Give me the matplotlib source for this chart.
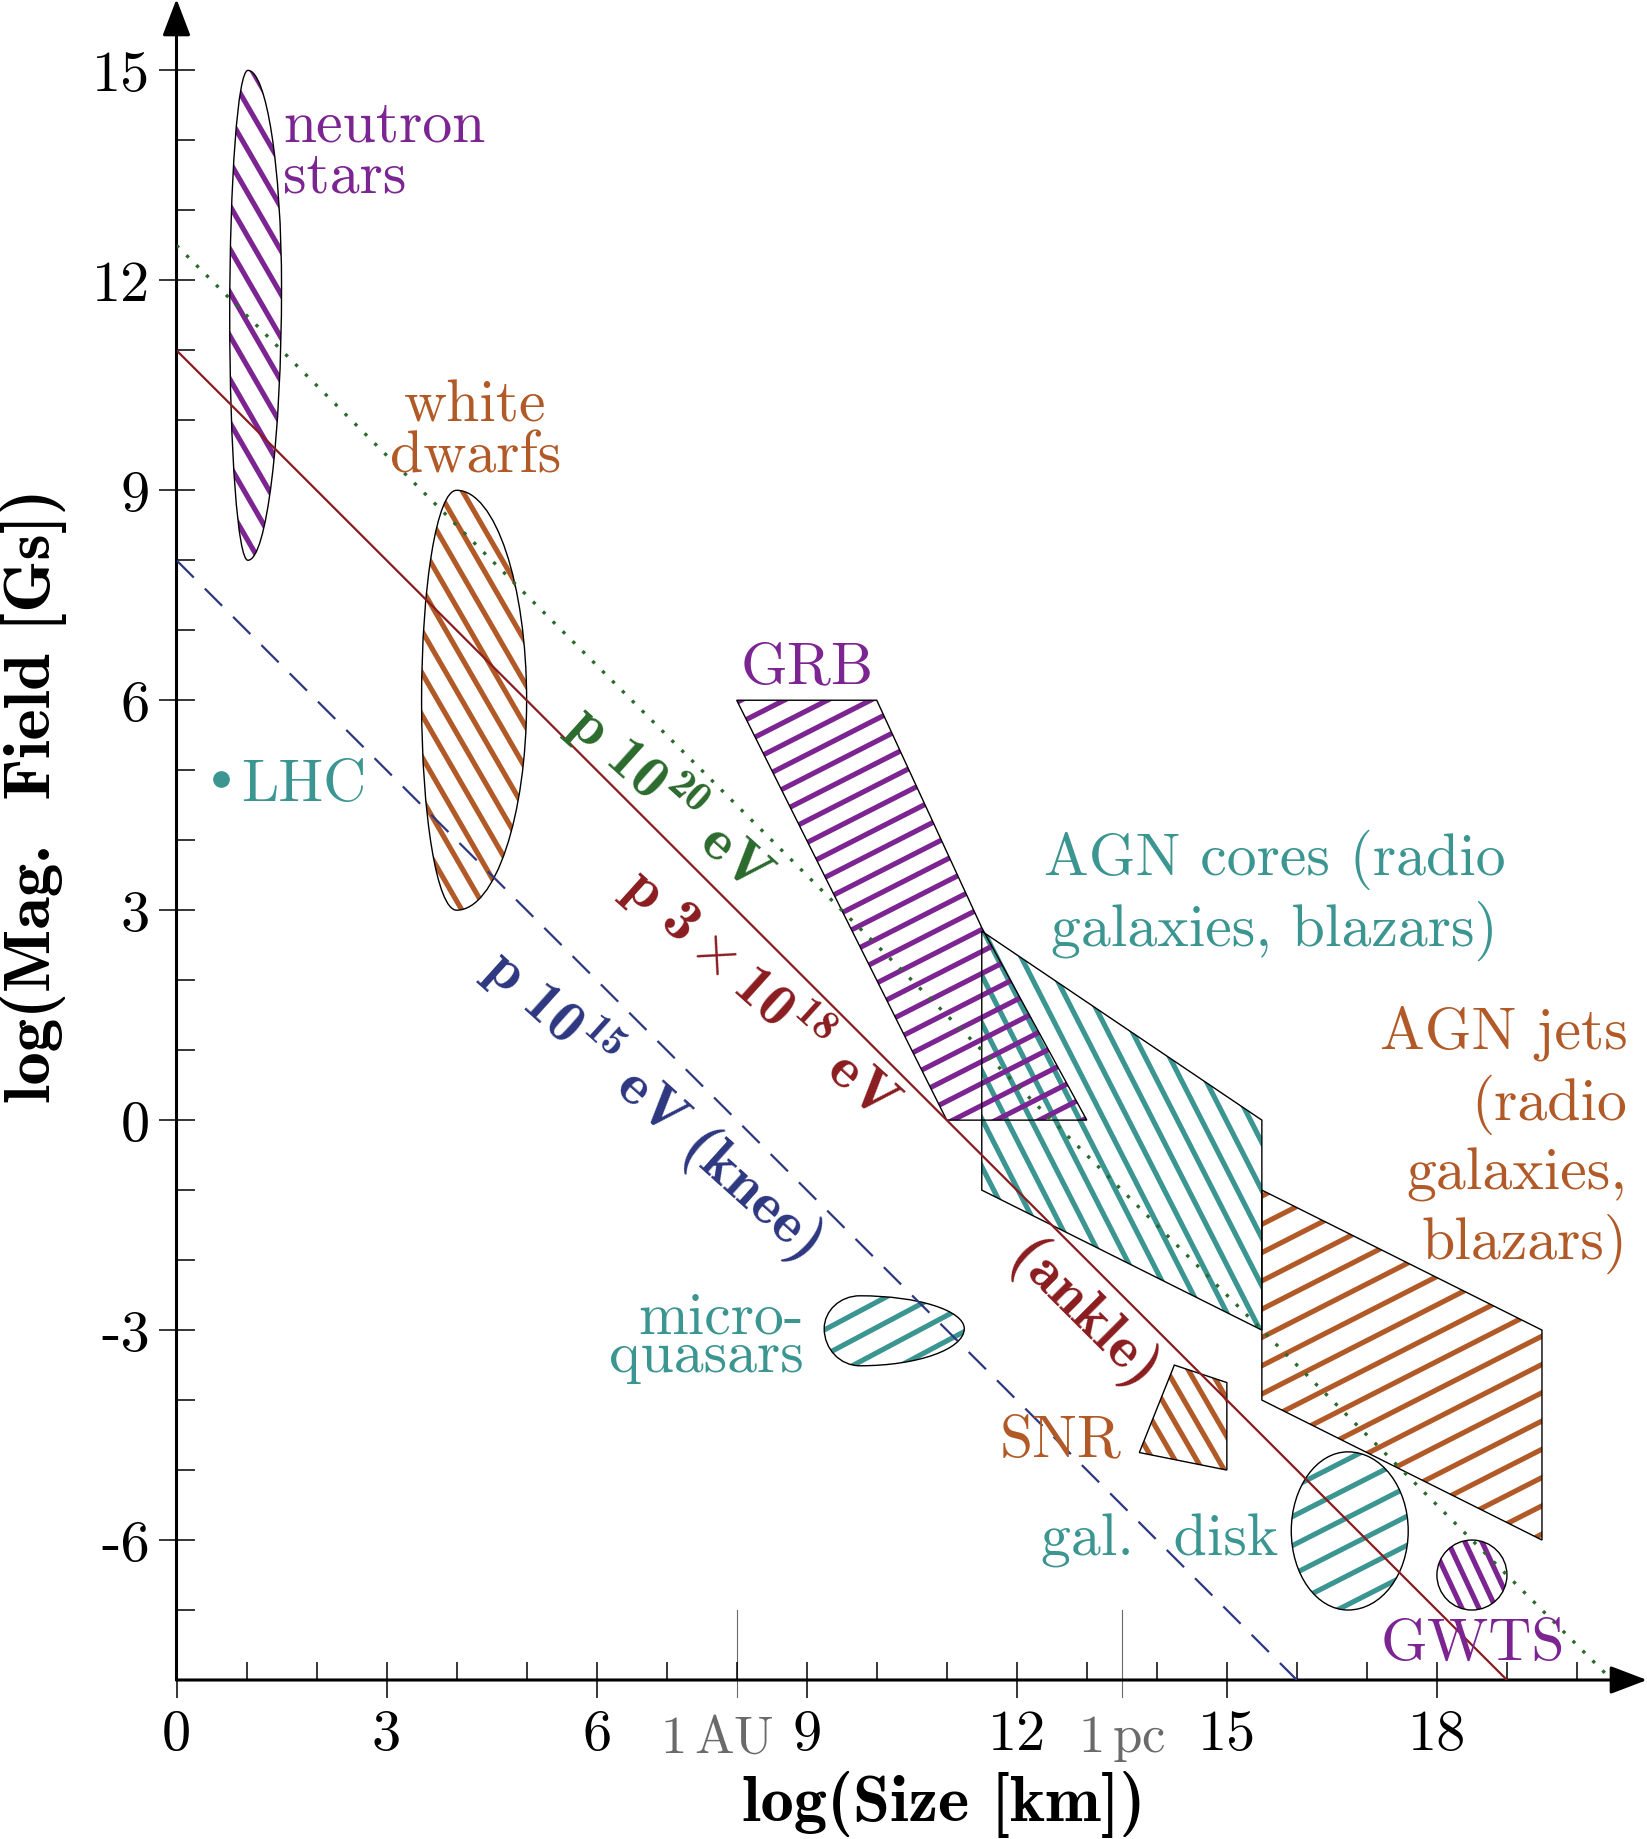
import numpy as np
import matplotlib
matplotlib.use('Agg')
import matplotlib.pyplot as plt
from matplotlib.patches import Polygon, PathPatch
from matplotlib.path import Path
from matplotlib.collections import LineCollection

plt.rcParams['font.family'] = 'cmr10'
plt.rcParams['mathtext.fontset'] = 'cm'
plt.rcParams['mathtext.rm'] = 'cmr10'
plt.rcParams['mathtext.bf'] = 'cmb10'
plt.rcParams['mathtext.it'] = 'cmmi10'
plt.rcParams['axes.unicode_minus'] = False
plt.rcParams['axes.formatter.use_mathtext'] = True

# ---- data (log10 size [km], log10 B [G]) ----
x_major = [0, 3, 6, 9, 12, 15, 18]
x_tick_labels = ['0', '3', '6', '9', '12', '15', '18']
y_major = [-6, -3, 0, 3, 6, 9, 12, 15]
y_tick_labels = ['-6', '-3', '0', '3', '6', '9', '12', '15']
x_minor = list(range(0, 21))
y_minor = list(range(-7, 16))

au_x = 8.0
pc_x = 13.5

# Hillas lines  log B = b - log R
hillas_b = [12.5, 11.0, 8.0]          # p 1e20, p 3e18, p 1e15

# polygons
grb_x = [8.0, 10.0, 11.5, 13.0, 11.0]
grb_y = [6.0, 6.0, 2.75, 0.0, 0.0]
agn_core_x = [11.5, 15.5, 15.5, 11.5]
agn_core_y = [2.7, 0.0, -3.0, -1.0]
agn_jet_x = [15.5, 19.5, 19.5, 15.5]
agn_jet_y = [-1.0, -3.0, -6.0, -4.0]
snr_x = [14.25, 15.0, 15.0, 13.75]
snr_y = [-3.5, -3.75, -5.0, -4.75]

# rounded regions: top, right, bottom, left extreme points
neutron_star = [(1.02, 15.0), (1.5, 11.9), (1.02, 8.0), (0.76, 11.5)]
white_dwarf = [(4.0, 9.0), (5.0, 6.0), (4.0, 3.0), (3.5, 6.0)]
micro_quasar = [(9.76, -2.51), (11.25, -2.98), (9.76, -3.51), (9.25, -2.98)]
gal_disk = [(16.73, -4.74), (17.59, -5.87), (16.73, -7.0), (15.92, -5.87)]
gwts = [(18.5, -6.0), (19.0, -6.5), (18.5, -7.0), (18.0, -6.5)]

lhc_x = [0.64]
lhc_y = [4.87]

# ---- colours ----
purple = '#7c2492'
brown = '#b15a27'
teal = '#3b9591'
green = '#2b6a2d'
darkred = '#8a1c1f'
navy = '#2c3780'
gray = '#6a6a6a'


def blob_path(pts, k=0.5523):
    (tx, ty), (rx, ry), (bx, by), (lx, ly) = pts
    verts = [(tx, ty),
             (tx + k * (rx - tx), ty), (rx, ry + k * (ty - ry)), (rx, ry),
             (rx, ry - k * (ry - by)), (bx + k * (rx - bx), by), (bx, by),
             (bx - k * (bx - lx), by), (lx, ly - k * (ly - by)), (lx, ly),
             (lx, ly + k * (ty - ly)), (tx - k * (tx - lx), ty), (tx, ty),
             (tx, ty)]
    codes = [Path.MOVETO] + [Path.CURVE4] * 12 + [Path.CLOSEPOLY]
    return Path(verts, codes)


def add_hatched(ax, patch, angle, spacing, color, z):
    ax.add_patch(patch)
    v = patch.get_path().vertices
    (x0, y0), (x1, y1) = v.min(0), v.max(0)
    cx, cy = (x0 + x1) / 2, (y0 + y1) / 2
    R = np.hypot(x1 - x0, y1 - y0) / 2 + spacing
    a = np.radians(angle)
    d = np.array([np.cos(a), np.sin(a)])
    n = np.array([-np.sin(a), np.cos(a)])
    m = int(R / spacing) + 2
    segs = []
    for i in range(-m, m + 1):
        c = np.array([cx, cy]) + (i + 0.5) * spacing * n
        segs.append([c - R * d, c + R * d])
    lc = LineCollection(segs, colors=color, linewidths=3.7, zorder=z,
                        capstyle='butt')
    ax.add_collection(lc)
    lc.set_clip_path(patch)


fig = plt.figure(figsize=(16.47, 18.40), dpi=100)
ax = fig.add_axes([176.5 / 1647, 159 / 1840, 1470.5 / 1647, 1681 / 1840])

# regions
outline = dict(facecolor='none', edgecolor='black', linewidth=1.0, zorder=3.5)
add_hatched(ax, PathPatch(blob_path(neutron_star), **outline), -60, 0.31, purple, 2)
add_hatched(ax, PathPatch(blob_path(white_dwarf), **outline), -60, 0.30, brown, 2)
add_hatched(ax, Polygon(np.c_[agn_core_x, agn_core_y], closed=True, **outline), -63, 0.31, teal, 2)
add_hatched(ax, Polygon(np.c_[grb_x, grb_y], closed=True, **outline), 27, 0.28, purple, 3)
add_hatched(ax, Polygon(np.c_[agn_jet_x, agn_jet_y], closed=True, **outline), 27, 0.36, brown, 2)
add_hatched(ax, Polygon(np.c_[snr_x, snr_y], closed=True, **outline), -60, 0.27, brown, 2)
add_hatched(ax, PathPatch(blob_path(micro_quasar), **outline), 28, 0.32, teal, 2)
add_hatched(ax, PathPatch(blob_path(gal_disk), **outline), 27, 0.37, teal, 2)
add_hatched(ax, PathPatch(blob_path(gwts), **outline), -65, 0.22, purple, 2)

# Hillas lines
styles = [dict(color=green, lw=2.4, linestyle=(0, (1.0, 3.2))),
          dict(color=darkred, lw=1.6, linestyle='-'),
          dict(color=navy, lw=1.6, linestyle=(0, (11, 7)))]
for b, st in zip(hillas_b, styles):
    ax.plot([0, b + 8], [b, -8], zorder=4, solid_capstyle='butt', **st)

ax.plot(lhc_x, lhc_y, 'o', color=teal, markersize=11, zorder=5)

# labels
fs = 43
lab = [('neutron', 1.52, 14.0, purple, 'left'),
       ('stars', 1.52, 13.27, purple, 'left'),
       ('white', 4.27, 10.0, brown, 'center'),
       ('dwarfs', 4.27, 9.27, brown, 'center'),
       ('LHC', 0.92, 4.57, teal, 'left'),
       ('GRB', 9.0, 6.25, purple, 'center'),
       ('AGN cores (radio', 15.68, 3.52, teal, 'center'),
       ('galaxies, blazars)', 15.68, 2.5, teal, 'center'),
       ('AGN jets', 20.72, 1.04, brown, 'right'),
       ('(radio', 20.72, 0.02, brown, 'right'),
       ('galaxies,', 20.72, -0.97, brown, 'right'),
       ('blazars)', 20.72, -1.96, brown, 'right'),
       ('micro-', 8.96, -3.03, teal, 'right'),
       ('quasars', 8.96, -3.58, teal, 'right'),
       ('SNR', 13.49, -4.79, brown, 'right'),
       ('gal.  disk', 15.73, -6.21, teal, 'right'),
       ('GWTS', 18.51, -7.7, purple, 'center')]
for t, x, y, c, ha in lab:
    ax.text(x, y, t, color=c, fontsize=fs, ha=ha, va='baseline', zorder=6)

rot = dict(rotation_mode='anchor', ha='center', va='center', fontsize=43,
           zorder=6, math_fontfamily='custom')
ax.text(7.06, 4.63, r'$\mathbf{p\ 10^{20}\ eV}$', color=green, rotation=-42, **rot)
ax.text(8.36, 1.83, r'$\mathbf{p\ 3\times10^{18}\ eV}$', color=darkred, rotation=-42, **rot)
ax.text(6.81, 0.27, r'$\mathbf{p\ 10^{15}\ eV\ (knee)}$', color=navy, rotation=-42, **rot)
ax.text(12.94, -2.70, r'$\mathbf{(ankle)}$', color=darkred, rotation=-45, **rot)

# 1 AU / 1 pc markers
for xv in [au_x, pc_x]:
    ax.plot([xv, xv], [-8.25, -7.0], color=gray, lw=0.8, clip_on=False, zorder=1)
ax.text(au_x - 0.28, -9.02, r'1$\,$AU', color=gray, fontsize=38, ha='center', va='baseline')
ax.text(pc_x, -9.02, r'1$\,$pc', color=gray, fontsize=38, ha='center', va='baseline')

# axes with arrows
for s in ax.spines.values():
    s.set_visible(False)
ax.set_xlim(0, 21)
ax.set_ylim(-8, 16.02)
arr = dict(arrowstyle='-|>,head_length=0.42,head_width=0.16', color='black',
           lw=2.2, mutation_scale=54, shrinkA=0, shrinkB=0)
ax.annotate('', xy=(21.0, -8), xytext=(0, -8), arrowprops=arr, annotation_clip=False)
ax.annotate('', xy=(0, 16.02), xytext=(0, -8), arrowprops=arr, annotation_clip=False)

ax.set_xticks(x_major)
ax.set_xticklabels(x_tick_labels)
ax.set_yticks(y_major)
ax.set_yticklabels(y_tick_labels)
ax.set_xticks([v for v in x_minor if v not in x_major], minor=True)
ax.set_yticks([v for v in y_minor if v not in y_major], minor=True)
ax.tick_params(which='major', direction='inout', length=26, width=1.1,
               labelsize=42)
ax.tick_params(axis='x', which='major', pad=8)
ax.tick_params(axis='y', which='major', pad=6)
ax.tick_params(which='minor', direction='in', length=13, width=1.1)

ax.text(10.95, -10.0, 'log(Size [km])', fontfamily='cmb10', fontsize=48,
        ha='center', va='baseline')
ax.text(-1.81, 4.65, 'log(Mag.  Field [Gs])', fontfamily='cmb10', fontsize=48,
        rotation=90, rotation_mode='anchor', ha='center', va='baseline')

fig.savefig('out.png', dpi=100)
